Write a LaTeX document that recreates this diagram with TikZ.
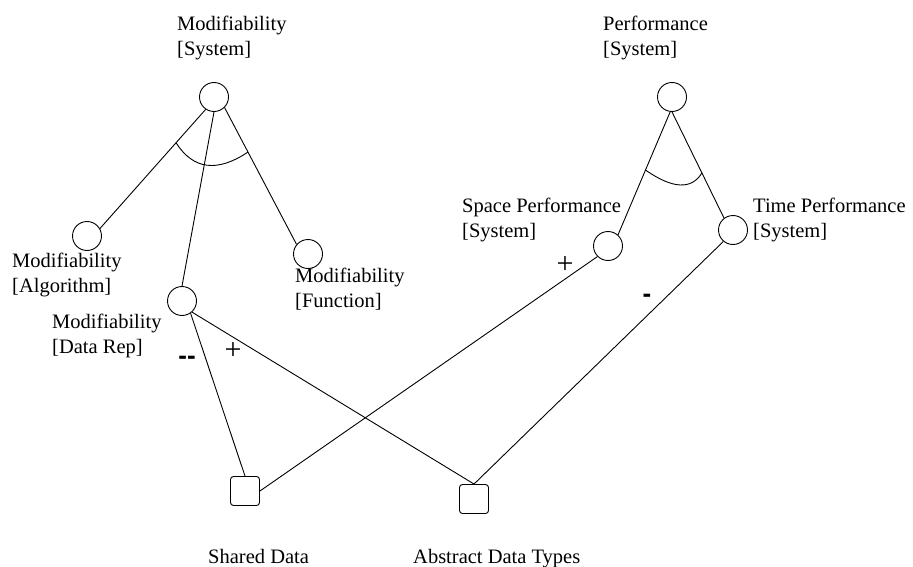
\documentclass[tikz,border=0pt]{standalone}
\usepackage{fontspec}
\setmainfont{Liberation Serif}
\newfontfamily\signfont{Liberation Sans}
\usetikzlibrary{calc}
\begin{document}
\begin{tikzpicture}[x=1pt,y=-1pt,
  goal/.style={circle,draw,minimum size=29pt,inner sep=0pt,line width=0.9pt},
  task/.style={draw,rounded corners=3pt,minimum size=29pt,inner sep=0pt,line width=0.9pt},
  lbl/.style={anchor=north west,align=left,inner sep=0pt,font=\fontsize{20.5}{24.5}\selectfont},
  link/.style={line width=0.9pt},
  plus/.style={inner sep=0pt,font=\fontsize{30}{30}\selectfont},
  minus/.style={inner sep=0pt,font=\signfont\bfseries\fontsize{26}{26}\selectfont}]
\useasboundingbox (0,0) rectangle (913,567);

% softgoals
\node[goal] (modsys)   at (214,97)  {};
\node[goal] (perfsys)  at (672,97)  {};
\node[goal] (modalg)   at (87,236)  {};
\node[goal] (modfunc)  at (308,254) {};
\node[goal] (datarep)  at (182,301) {};
\node[goal] (space)    at (608,246) {};
\node[goal] (time)     at (733,230) {};

% operationalisations
\node[task] (shared)   at (245,491) {};
\node[task] (abstract) at (474,499) {};

% labels
\node[lbl] (lmodsys)   at (177,16)  {Modifiability\\{[System]}};
\node[lbl] (lperfsys)  at (603,16)  {Performance\\{[System]}};
\node[lbl] (lspace)    at (462,198) {Space Performance\\{[System]}};
\node[lbl] (ltime)     at (753,198) {Time Performance\\{[System]}};
\node[lbl] (lmodalg)   at (12,253)  {Modifiability\\{[Algorithm]}};
\node[lbl] (lmodfunc)  at (295,268) {Modifiability\\{[Function]}};
\node[lbl] (ldatarep)  at (52,314)  {Modifiability\\{[Data Rep]}};
\node[lbl] (lshared)   at (208,549) {Shared Data};
\node[lbl] (labstract) at (413,549) {Abstract Data Types};

% AND decompositions
\draw[link] (modsys.-124) -- (modalg.30);
\draw[link] (modsys.south) -- (datarep.north);
\draw[link] (modsys.-45) -- (modfunc.140);
\draw[link] (perfsys.-97) -- (space.48);
\draw[link] (perfsys.south) -- (time.127);

% AND arcs
\coordinate (mL) at ($(modsys.-124)!0.28!(modalg.30)$);
\coordinate (mR) at ($(modsys.-45)!0.325!(modfunc.140)$);
\coordinate (mQ) at (201.75,183);
\draw[link] (mL) .. controls ($(mL)!0.667!(mQ)$) and ($(mR)!0.667!(mQ)$) .. (mR);
\coordinate (pL) at ($(perfsys.-97)!0.473!(space.48)$);
\coordinate (pR) at ($(perfsys.south)!0.575!(time.127)$);
\coordinate (pQ) at (686.3,198.4);
\draw[link] (pL) .. controls ($(pL)!0.667!(pQ)$) and ($(pR)!0.667!(pQ)$) .. (pR);

% contributions
\draw[link] (datarep.-55) -- (shared.north);
\draw[link] (datarep.-48) -- (abstract.north);
\draw[link] (space.-135) -- (shared.east);
\draw[link] (time.-130) -- (abstract.north);

% contribution signs
\node[minus] (s1) at (187,360) {-{}-};
\node[plus]  (s2) at (233,351) {+};
\node[plus]  (s3) at (565,265) {+};
\node[minus] (s4) at (647,298) {-};
\end{tikzpicture}
\end{document}
